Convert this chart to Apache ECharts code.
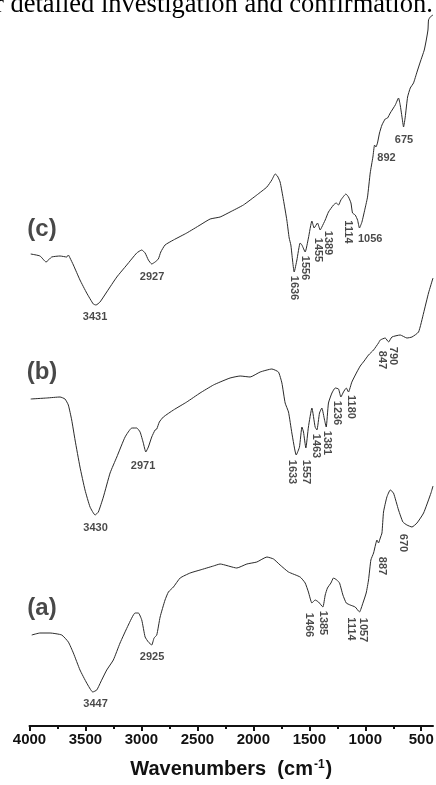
<!DOCTYPE html>
<html><head><meta charset="utf-8">
<script src="https://cdn.jsdelivr.net/npm/echarts@6/dist/echarts.min.js"></script>
<style>html,body{margin:0;padding:0;background:#fff}#c{width:436px;height:785px}</style>
</head><body><div id="c"></div>
<script>
// FTIR spectra, wavenumber (cm-1) vs. offset transmittance (a.u.)
const specC = [[3989,472],[3906,470],[3852,464],[3802,469],[3727,470],[3667,469],[3653,471],[3638,468],[3608,461],[3549,446],[3489,433],[3430,422],[3406,421],[3370,424],[3310,434],[3220,449],[3131,461],[3042,473],[2997,476],[2967,473],[2938,466],[2908,462],[2878,464],[2849,467],[2827,474],[2789,481],[2714,486],[2595,493],[2476,501],[2386,507],[2297,509],[2208,514],[2089,521],[1969,531],[1879,539],[1835,546],[1805,552],[1785,550],[1761,544],[1731,526],[1701,506],[1680,488],[1665,481],[1635,454],[1611,466],[1582,483],[1566,481],[1537,474],[1508,488],[1477,505],[1457,498],[1427,503],[1403,496],[1388,499],[1358,506],[1329,514],[1284,521],[1260,523],[1239,521],[1218,526],[1173,532],[1150,529],[1128,523],[1114,513],[1090,511],[1069,506],[1052,498],[1030,504],[1001,518],[980,529],[956,553],[932,569],[917,581],[905,579],[891,583],[873,593],[851,601],[822,607],[801,608],[777,613],[732,621],[703,628],[688,621],[672,609],[658,599],[643,609],[622,629],[598,638],[569,643],[538,654],[509,664],[473,676],[455,686],[440,696],[435,706],[420,709],[395,711]];
const specB = [[3989,327],[3846,328],[3727,329],[3683,327],[3653,321],[3623,306],[3593,286],[3549,259],[3504,236],[3459,219],[3414,211],[3385,214],[3340,229],[3280,253],[3220,269],[3146,289],[3086,298],[3042,298],[3012,294],[2983,283],[2961,274],[2938,279],[2908,289],[2878,296],[2863,297],[2840,304],[2804,309],[2714,316],[2595,324],[2476,333],[2357,341],[2297,344],[2208,348],[2118,350],[2029,349],[1939,354],[1835,357],[1776,354],[1745,343],[1716,323],[1686,314],[1656,293],[1617,271],[1588,279],[1566,299],[1552,294],[1531,278],[1508,299],[1477,318],[1448,299],[1432,296],[1409,313],[1388,318],[1364,306],[1349,299],[1329,323],[1298,333],[1269,338],[1239,337],[1218,329],[1195,334],[1170,338],[1150,334],[1120,344],[1075,354],[1045,360],[1010,365],[971,371],[926,376],[882,383],[866,386],[822,388],[792,384],[762,389],[688,391],[628,388],[583,389],[524,394],[479,413],[435,433],[395,448]];
const specA = [[3980,91],[3906,93],[3817,93],[3712,91],[3653,84],[3608,73],[3549,56],[3489,43],[3435,34],[3399,36],[3355,46],[3310,56],[3251,66],[3191,83],[3117,101],[3057,113],[3027,113],[2997,106],[2967,89],[2938,84],[2908,81],[2887,88],[2863,91],[2833,109],[2789,126],[2759,134],[2714,139],[2654,148],[2565,153],[2476,156],[2357,160],[2297,162],[2148,158],[2058,162],[1969,164],[1879,169],[1820,167],[1761,161],[1686,154],[1582,149],[1537,143],[1508,134],[1477,123],[1448,126],[1418,124],[1379,119],[1358,131],[1338,138],[1307,143],[1284,148],[1254,146],[1230,143],[1200,131],[1170,123],[1135,121],[1090,119],[1052,114],[1021,123],[992,133],[971,146],[950,166],[926,173],[909,181],[896,186],[882,183],[866,188],[851,193],[837,214],[807,229],[777,236],[748,233],[703,216],[664,204],[628,201],[583,199],[538,203],[479,213],[413,233],[395,240]];

// peak annotations: [text, label wavenumber, label value, rotation]
const peaksC = [["3431",3414,409,0],["2927",2905,449,0],["1636",1635,438,-90],["1556",1537,458,-90],["1455",1423,476,-90],["1389",1329,483,-90],["1114",1155,494,-90],["1056",956,487,0],["892",810,568,0],["675",654,586,0]];
const peaksB = [["3430",3410,198,0],["2971",2985,260,0],["1633",1656,254,-90],["1557",1531,254,-90],["1463",1441,280,-90],["1381",1338,283,-90],["1236",1248,313,-90],["1180",1128,319,-90],["847",851,366,-90],["790",748,370,-90]];
const peaksA = [["3447",3410,22,0],["2925",2905,69,0],["1466",1499,101,-90],["1385",1379,103,-90],["1114",1128,97,-90],["1057",1021,96,-90],["887",851,160,-90],["670",664,183,-90]];
const panelLabels = [["(c)",3888,497],["(b)",3888,354],["(a)",3888,118]];

const xTickLabels = [4000,3500,3000,2500,2000,1500,1000,500];
const xMinorTicks = [3750,3250,2750,2250,1750,1250,750];

const chart = echarts.init(document.getElementById('c'));
const lineColor = '#2a2a2a';
function lineSeries(name, data){
  return {name, type:'line', data, xAxisIndex:0, showSymbol:false, smooth:0.15,
    lineStyle:{color:lineColor, width:1}, silent:true, z:2};
}
function labelSeries(arr, size){
  return {type:'scatter', xAxisIndex:0, silent:true, symbolSize:1, itemStyle:{color:'rgba(0,0,0,0)'}, z:3,
    data: arr.map(p => ({value:[p[1],p[2]], label:{show:true, position:'inside', formatter:p[0], rotate:p[3]||0,
      fontSize:size, fontWeight:'bold', color:'#1a1a1a', fontFamily:'Liberation Sans'}}))};
}
chart.setOption({
  animation:false,
  backgroundColor:'#fff',
  grid:{left:29.5, right:3, top:0, bottom:59, containLabel:false, outerBoundsMode:'none'},
  xAxis:[{
    type:'value', min:395, max:4000, inverse:true, position:'bottom',
    axisLine:{show:true, lineStyle:{color:'#111', width:2}},
    axisTick:{show:true, length:5, lineStyle:{color:'#111', width:2}, customValues:xTickLabels},
    axisLabel:{customValues:xTickLabels, formatter:v => String(v), fontSize:15, fontWeight:'bold', color:'#111', margin:6, fontFamily:'Liberation Sans'},
    splitLine:{show:false},
    name:'Wavenumbers  (cm{sup|-1})', nameLocation:'middle', nameGap:33,
    nameTextStyle:{fontSize:20, fontWeight:'bold', color:'#111', fontFamily:'Liberation Sans',
      rich:{sup:{fontSize:12, fontWeight:'bold', color:'#111', fontFamily:'Liberation Sans', verticalAlign:'top', padding:[0,1,8,1]}}}
  },{
    type:'value', min:395, max:4000, inverse:true, position:'bottom',
    axisLine:{show:false},
    axisTick:{show:true, length:3, lineStyle:{color:'#111', width:2}, customValues:xMinorTicks},
    axisLabel:{show:false}, splitLine:{show:false}
  }],
  yAxis:{type:'value', min:0, max:726, show:false},
  series:[
    lineSeries('c', specC), lineSeries('b', specB), lineSeries('a', specA),
    labelSeries(peaksC, 11), labelSeries(peaksB, 11), labelSeries(peaksA, 11),
    labelSeries(panelLabels, 24)
  ],
  graphic:[{type:'text', x:-5, y:5, silent:true,
    style:{text:'r detailed investigation and confirmation.', font:'26.5px "Liberation Serif"', fill:'#000', verticalAlign:'middle', align:'left'}}]
});
</script></body></html>
